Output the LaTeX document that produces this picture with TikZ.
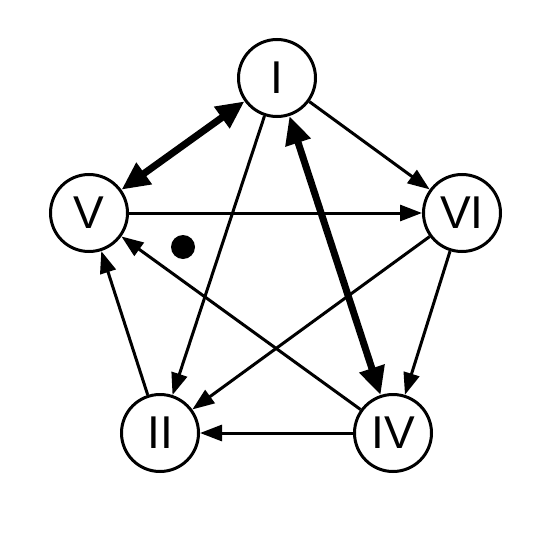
\documentclass[tikz,border=0pt]{standalone}
\usepackage{fontspec}
\setmainfont{Liberation Sans}
\usetikzlibrary{arrows.meta}
\begin{document}
\begin{tikzpicture}[x=1pt,y=-1pt,
  st/.style={circle,draw,line width=3pt,minimum size=77pt,inner sep=0pt,font=\fontsize{46}{46}\selectfont},
  thin/.style={line width=3pt,-{Triangle[length=22pt,width=16pt]}},
  thick/.style={line width=7pt,{Triangle[length=28pt,width=25pt]}-{Triangle[length=28pt,width=25pt]}}]
\useasboundingbox (0,0) rectangle (551,551);
\node[st] (I) at (277,78) {I};
\node[st] (V) at (89,213) {V};
\node[st] (VI) at (462,213) {VI};
\node[st] (II) at (160,433) {II};
\node[st] (IV) at (393,433) {IV};
\draw[thick] (I) -- (V);
\draw[thick] (I) -- (IV);
\draw[thin] (I) -- (VI);
\draw[thin] (I) -- (II);
\draw[thin] (V) -- (VI);
\draw[thin] (VI) -- (IV);
\draw[thin] (VI) -- (II);
\draw[thin] (IV) -- (V);
\draw[thin] (IV) -- (II);
\draw[thin] (II) -- (V);
\fill (183,247) circle (12);
\end{tikzpicture}
\end{document}
